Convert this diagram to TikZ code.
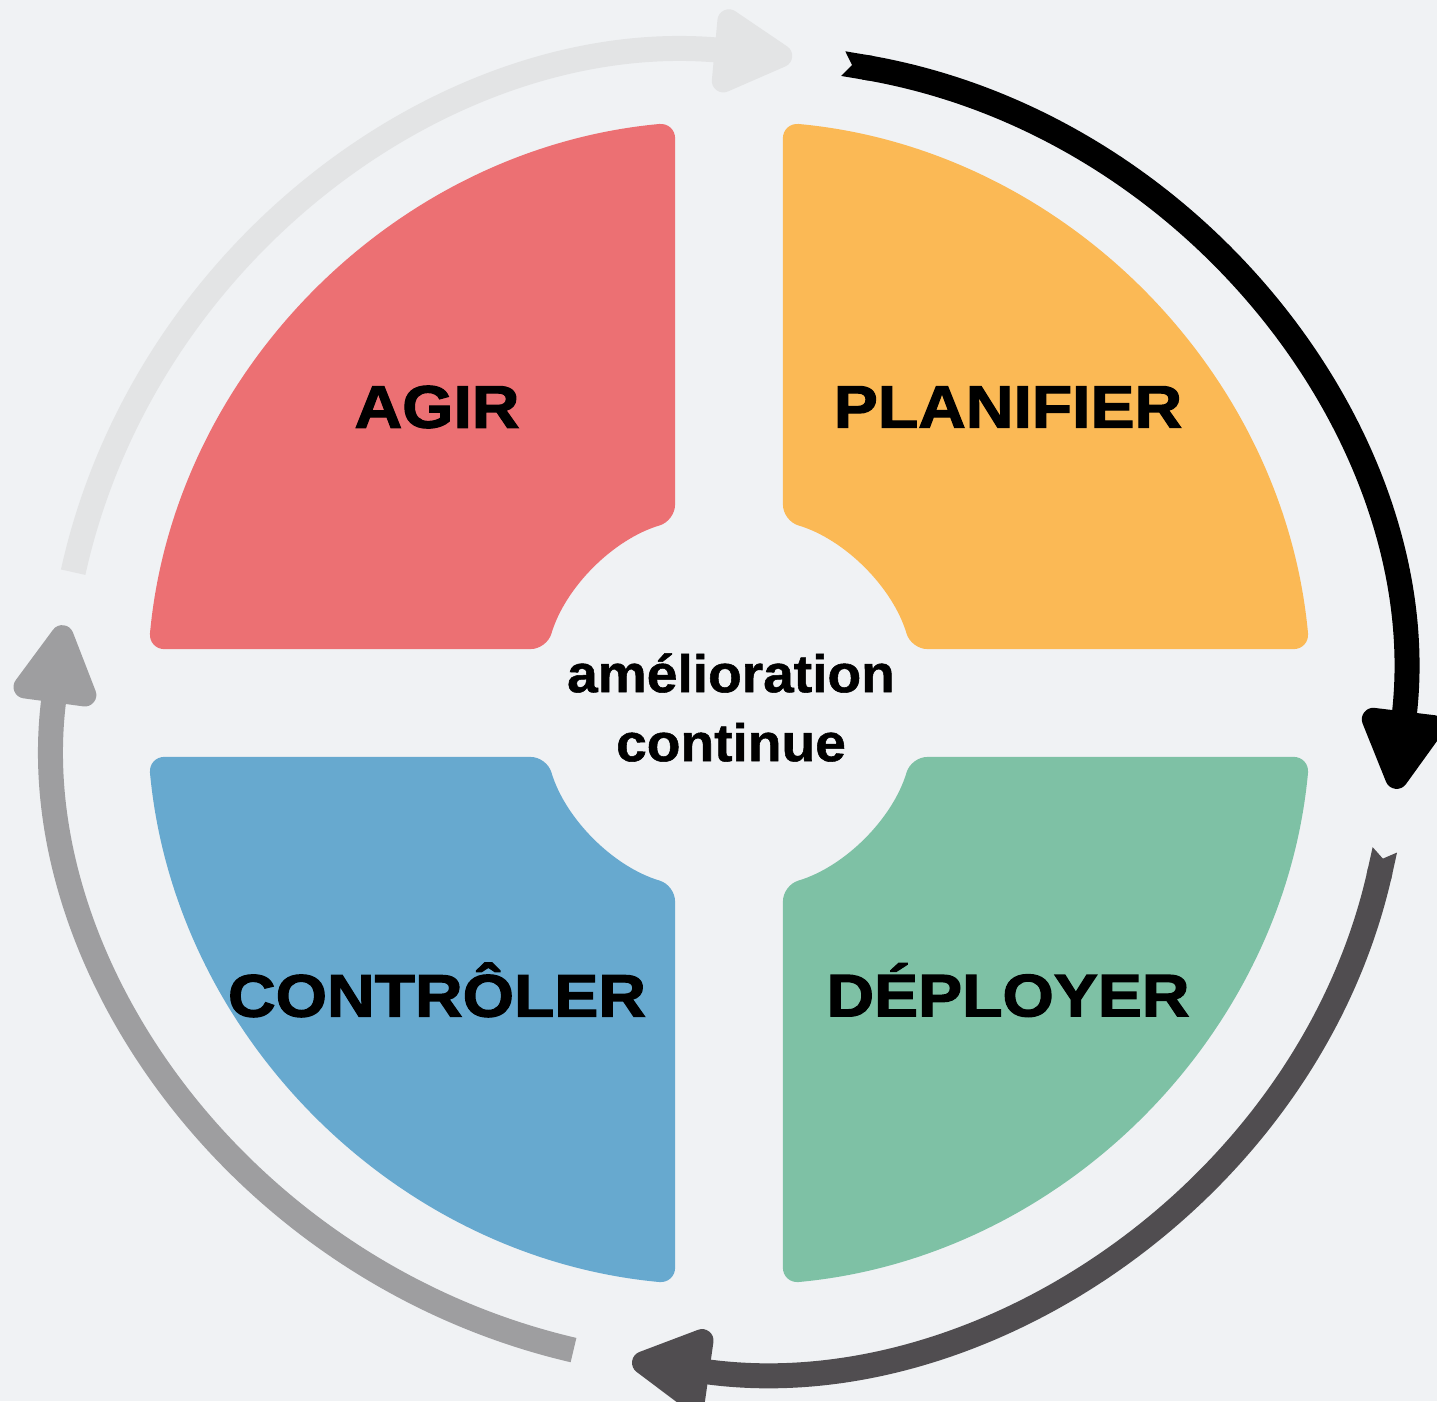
\documentclass[tikz,border=0pt]{standalone}
\usepackage{fontspec}
\setmainfont{Liberation Sans}
\newfontfamily\heavyfont[FakeStretch=1.1,FakeBold=2]{Liberation Sans Bold}
\newfontfamily\midfont[FakeStretch=1.04,FakeBold=1]{Liberation Sans Bold}
\usetikzlibrary{arrows.meta}
\definecolor{bgcol}{HTML}{F0F2F4}
\definecolor{agircol}{HTML}{EC7073}
\definecolor{plancol}{HTML}{FBB955}
\definecolor{ctrlcol}{HTML}{67A9CF}
\definecolor{deplcol}{HTML}{7EC1A5}
\definecolor{darkarc}{HTML}{504D50}
\definecolor{midarc}{HTML}{9E9EA0}
\definecolor{lightarc}{HTML}{E3E4E5}
\begin{document}
\begin{tikzpicture}[x=1pt, y=1pt,
    quart/.style={rounded corners=16pt},
    lbl/.style={font=\heavyfont\fontsize{60}{72}\selectfont, text=black},
    ring arrow/.style={line width=25pt, -{Triangle[round, length=92pt, width=92pt, line width=28pt]}},
    notched/.style={{Triangle Cap[reversed, length=9pt]}-{Triangle[round, length=92pt, width=92pt, line width=28pt]}}]
    \fill[bgcol] (-729,-698) rectangle (708,703);
    \useasboundingbox (-729,-698) rectangle (708,703);
    % quarters
    \foreach \ang/\col in {0/plancol, 90/agircol, 180/ctrlcol, 270/deplcol}
        \fill[\col, quart, rotate=\ang] (84.7:583) arc[start angle=84.7, end angle=5.3, radius=583]
            -- (16.5:190) arc[start angle=16.5, end angle=73.5, radius=190] -- cycle;
    \node[lbl] (agir) at (-292,296) {AGIR};
    \node[lbl] (plan) at (279,296) {PLANIFIER};
    \node[lbl] (ctrl) at (-292,-287) {CONTRÔLER};
    \node[lbl] (depl) at (279,-287) {DÉPLOYER};
    \node[font=\midfont\fontsize{53}{69}\selectfont, align=center] (centre) at (2,-4.5) {amélioration\\continue};
    % ring
    \begin{scope}[shift={(0,-8)}]
        \draw[ring arrow, notched, black] (80.2:671 and 657) arc[start angle=80.2, end angle=-6.8, x radius=671, y radius=657];
        \draw[ring arrow, notched, darkarc] (-12.2:671 and 657) arc[start angle=-12.2, end angle=-98.3, x radius=671, y radius=657];
        \draw[ring arrow, midarc] (-103.4:671 and 657) arc[start angle=-103.4, end angle=-187.5, x radius=671, y radius=657];
        \draw[ring arrow, lightarc] (167.8:671 and 657) arc[start angle=167.8, end angle=84.6, x radius=671, y radius=657];
    \end{scope}
\end{tikzpicture}
\end{document}
